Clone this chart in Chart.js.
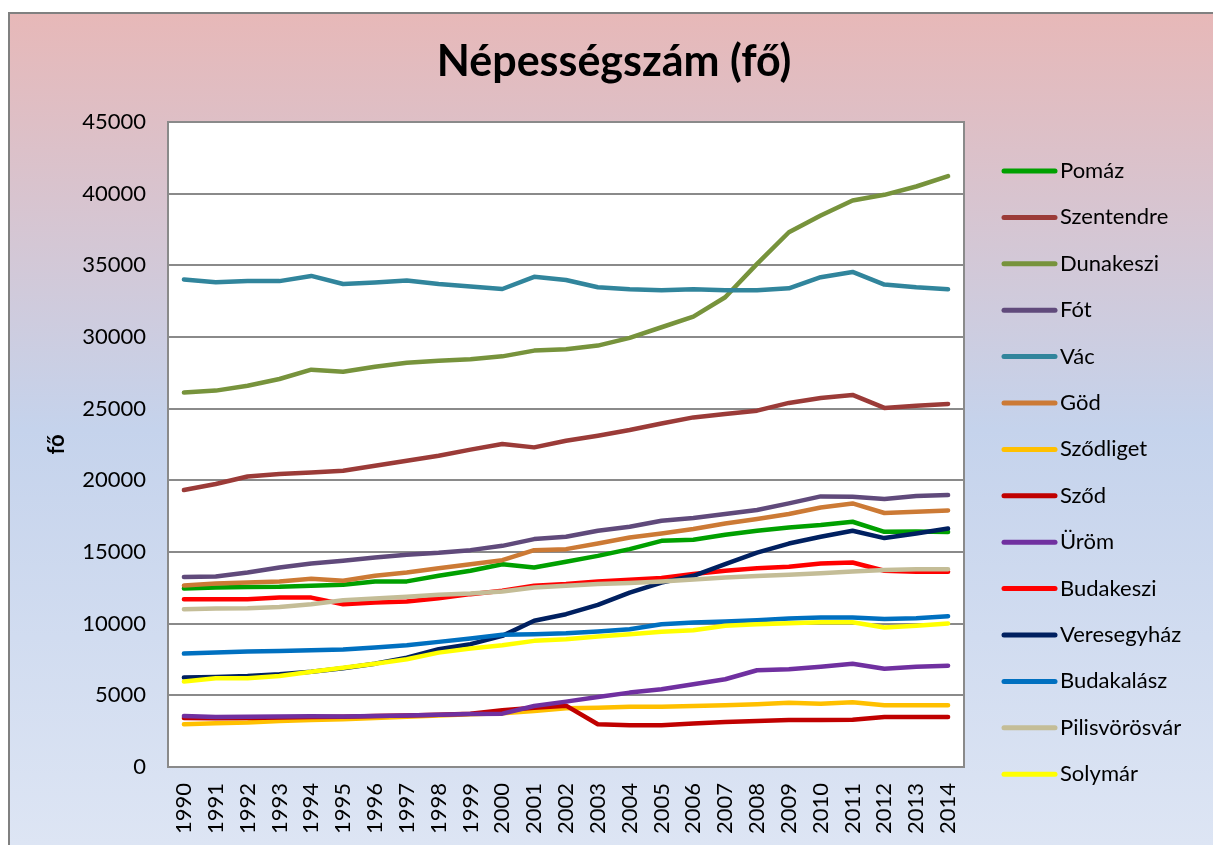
<!DOCTYPE html>
<html>
<head>
<meta charset="utf-8">
<script src="https://cdn.jsdelivr.net/npm/chart.js@4/dist/chart.umd.min.js"></script>
<style>
  html, body { margin: 0; padding: 0; background: #fff; }
  #wrap { width: 1213px; height: 845px; }
</style>
</head>
<body>
<div id="wrap"><canvas id="nepChart" width="1213" height="845"></canvas></div>
<script>
// ---- data ----
const years = ['1990','1991','1992','1993','1994','1995','1996','1997','1998','1999','2000','2001','2002',
               '2003','2004','2005','2006','2007','2008','2009','2010','2011','2012','2013','2014'];

const pomaz        = [12450,12520,12560,12570,12640,12710,12940,12950,13340,13690,14150,13920,14320,14730,15200,15780,15850,16200,16480,16710,16880,17110,16410,16430,16390];
const szentendre   = [19320,19740,20270,20440,20550,20670,21020,21370,21720,22140,22530,22300,22760,23110,23510,23970,24390,24630,24860,25400,25750,25960,25050,25210,25330];
const dunakeszi    = [26120,26260,26600,27070,27720,27580,27930,28210,28350,28440,28650,29050,29140,29400,29940,30680,31420,32770,35100,37310,38480,39520,39920,40500,41220];
const fot          = [13250,13290,13570,13920,14200,14390,14620,14800,14940,15130,15430,15900,16060,16480,16760,17180,17370,17650,17930,18390,18880,18850,18690,18900,18970];
const vac          = [34010,33820,33900,33900,34260,33700,33800,33940,33700,33520,33350,34200,33980,33470,33330,33260,33330,33260,33260,33400,34170,34540,33660,33470,33330];
const god          = [12660,12800,12870,12940,13130,12990,13340,13570,13870,14150,14430,15130,15200,15590,16010,16290,16600,16990,17300,17650,18110,18390,17720,17810,17900];
const szodliget    = [2980,3050,3100,3210,3280,3330,3420,3500,3600,3680,3750,3910,4100,4140,4210,4210,4260,4310,4380,4490,4420,4520,4310,4310,4310];
const szod         = [3420,3400,3420,3450,3480,3500,3550,3600,3650,3720,3960,4140,4280,2980,2910,2910,3030,3140,3210,3280,3280,3300,3490,3490,3490];
const urom         = [3560,3480,3500,3520,3540,3520,3560,3600,3640,3700,3720,4260,4560,4890,5190,5430,5780,6120,6750,6820,7000,7210,6860,7000,7070];
const budakeszi    = [11710,11710,11710,11820,11820,11360,11470,11540,11780,12060,12290,12640,12760,12940,13060,13180,13460,13690,13870,13970,14200,14270,13690,13620,13620];
const veresegyhaz  = [6240,6280,6350,6470,6650,6890,7210,7630,8220,8570,9150,10200,10660,11310,12170,12870,13340,14150,14960,15590,16060,16480,15970,16290,16640];
const budakalasz   = [7910,7980,8050,8100,8150,8190,8330,8500,8730,8960,9220,9260,9330,9450,9610,9960,10080,10150,10240,10360,10430,10430,10330,10380,10520];
const pilisvorosvar= [11010,11060,11080,11170,11360,11640,11750,11870,12010,12100,12240,12520,12640,12760,12830,12940,13080,13220,13320,13410,13520,13640,13740,13800,13800];
const solymar      = [5960,6190,6200,6350,6650,6930,7210,7520,7980,8260,8500,8800,8920,9100,9260,9430,9540,9850,9960,10030,10100,10100,9730,9850,10010];

const seriesNames  = ['Pomáz','Szentendre','Dunakeszi','Fót','Vác','Göd','Sződliget','Sződ','Üröm','Budakeszi','Veresegyház','Budakalász','Pilisvörösvár','Solymár'];
const seriesValues = [pomaz, szentendre, dunakeszi, fot, vac, god, szodliget, szod, urom, budakeszi, veresegyhaz, budakalasz, pilisvorosvar, solymar];
const seriesColors = ['#00A000','#9B3B38','#77933C','#604A7B','#31859C','#CC7A35','#FFC000','#C00000','#7030A0','#FF0000','#002060','#0070C0','#C4BD97','#FFFF00'];

const yTicks = [0,5000,10000,15000,20000,25000,30000,35000,40000,45000];
const chartTitle = 'Népességszám (fő)';
const yTitle = 'fő';

const FONT = 'Lato, "Open Sans", sans-serif';

/* ===============================
   background, plot box, title, legend
================================*/
const framePlugin = {
    id: 'frame',
    beforeDraw(chart) {
        const { ctx, chartArea: a, width, height } = chart;
        ctx.save();
        ctx.fillStyle = '#fff';
        ctx.fillRect(0, 0, width, height);

        // outer gradient panel
        const g = ctx.createLinearGradient(0, 13, 0, height);
        g.addColorStop(0, '#E7B8B8');
        g.addColorStop(0.5, '#C5D3EC');
        g.addColorStop(1, '#DDE5F4');
        ctx.fillStyle = g;
        ctx.fillRect(9, 13, width, height);
        ctx.strokeStyle = '#808080';
        ctx.lineWidth = 2;
        ctx.beginPath();
        ctx.moveTo(9, height + 5);
        ctx.lineTo(9, 13);
        ctx.lineTo(width + 5, 13);
        ctx.stroke();

        // white plot area
        ctx.fillStyle = '#fff';
        ctx.fillRect(a.left, a.top, a.right - a.left, a.bottom - a.top);

        // title
        ctx.fillStyle = '#000';
        ctx.font = 'bold 43px ' + FONT;
        ctx.textAlign = 'center';
        ctx.textBaseline = 'alphabetic';
        ctx.fillText(chartTitle, 614, 76);
        ctx.restore();
    },
    afterDraw(chart) {
        const { ctx, chartArea: a } = chart;
        ctx.save();
        // plot border
        ctx.strokeStyle = '#8A8A8A';
        ctx.lineWidth = 2;
        ctx.strokeRect(a.left, a.top, a.right - a.left, a.bottom - a.top);

        // legend
        ctx.font = '22px ' + FONT;
        ctx.textAlign = 'left';
        ctx.textBaseline = 'middle';
        chart.data.datasets.forEach((ds, i) => {
            const y = 171 + i * 46.4;
            ctx.strokeStyle = ds.borderColor;
            ctx.lineWidth = 5;
            ctx.lineCap = 'round';
            ctx.beginPath();
            ctx.moveTo(1004, y);
            ctx.lineTo(1055, y);
            ctx.stroke();
            ctx.fillStyle = '#000';
            ctx.fillText(ds.label, 1060, y);
        });
        ctx.restore();
    }
};

const datasets = seriesNames.map((name, i) => ({
    label: name,
    data: seriesValues[i],
    borderColor: seriesColors[i],
    backgroundColor: seriesColors[i],
    borderWidth: 4.5,
    pointRadius: 0,
    tension: 0,
    borderJoinStyle: 'round',
    borderCapStyle: 'round',
    order: -i   // later series on top, like the original
}));

new Chart(document.getElementById('nepChart'), {
    type: 'line',
    data: { labels: years, datasets },
    options: {
        responsive: false,
        animation: false,
        layout: { padding: { top: 122, right: 249, bottom: 0, left: 0 } },
        plugins: {
            legend: { display: false },
            title: { display: false },
            tooltip: { enabled: false }
        },
        scales: {
            x: {
                offset: true,
                grid: { display: false, drawTicks: false },
                border: { display: false },
                ticks: {
                    color: '#000',
                    font: { family: FONT, size: 22 },
                    minRotation: 90,
                    maxRotation: 90,
                    padding: 16,
                    autoSkip: false
                },
                afterFit(scale) { scale.height = 78; }
            },
            y: {
                min: 0,
                max: 45000,
                afterBuildTicks(scale) { scale.ticks = yTicks.map(v => ({ value: v })); },
                grid: { color: '#8A8A8A', lineWidth: 2, drawTicks: false },
                border: { display: false },
                ticks: {
                    color: '#000',
                    font: { family: FONT, size: 22 },
                    padding: 22,
                    callback: v => String(v)
                },
                title: {
                    display: true,
                    text: yTitle,
                    color: '#000',
                    font: { family: FONT, size: 22, weight: 'bold' },
                    padding: { top: 44, bottom: 0 }
                },
                afterFit(scale) { scale.width = 168; }
            }
        }
    },
    plugins: [framePlugin]
});
</script>
</body>
</html>
